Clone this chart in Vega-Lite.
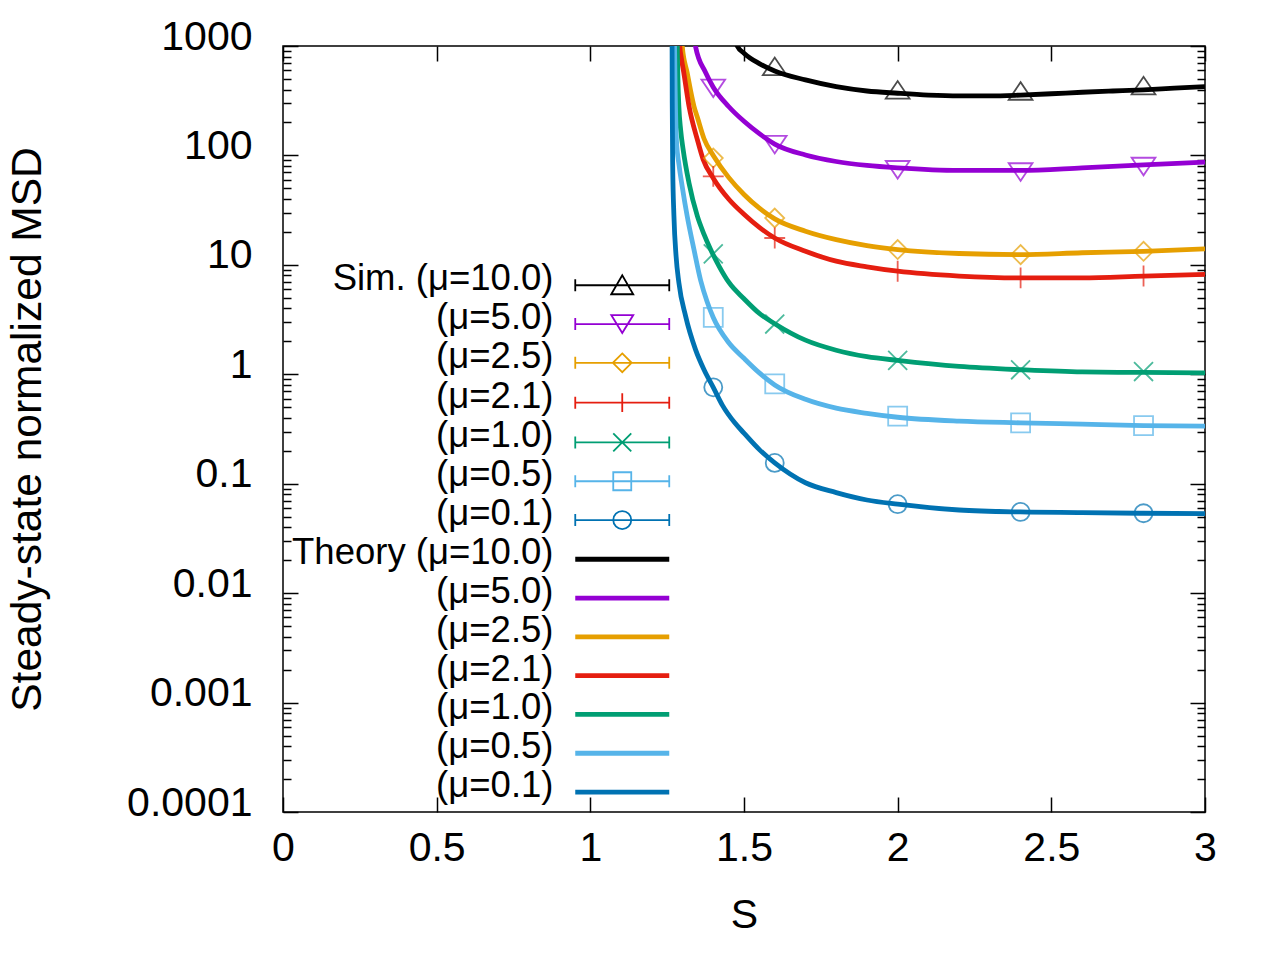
{
  "$schema": "https://vega.github.io/schema/vega-lite/v6.json",
  "description": "Steady-state normalized MSD vs S, simulation markers and theory curves for several mu",
  "width": 922,
  "height": 766,
  "autosize": "none",
  "padding": {"left": 283, "top": 46, "right": 75, "bottom": 148},
  "background": "white",
  "config": {
    "view": {"stroke": "black", "strokeWidth": 1.5},
    "font": "Liberation Sans",
    "axis": {"grid": false, "domain": false, "tickColor": "black", "tickWidth": 1.5, "labelColor": "black", "titleColor": "black", "labelFont": "Liberation Sans", "titleFont": "Liberation Sans", "titleFontWeight": "normal"},
    "legend": {"labelFont": "Liberation Sans", "labelColor": "black", "padding": 0, "labelLimit": 500}
  },
  "datasets": {
    "theory": [
      {"mu": "10.0", "S": 1.47, "msd": 1150}, {"mu": "10.0", "S": 1.478, "msd": 1000}, {"mu": "10.0", "S": 1.5, "msd": 860},
      {"mu": "10.0", "S": 1.55, "msd": 690}, {"mu": "10.0", "S": 1.6, "msd": 590}, {"mu": "10.0", "S": 1.7, "msd": 490},
      {"mu": "10.0", "S": 1.8, "msd": 425}, {"mu": "10.0", "S": 1.9, "msd": 388}, {"mu": "10.0", "S": 2.0, "msd": 370},
      {"mu": "10.0", "S": 2.1, "msd": 356}, {"mu": "10.0", "S": 2.2, "msd": 350}, {"mu": "10.0", "S": 2.3, "msd": 350},
      {"mu": "10.0", "S": 2.4, "msd": 356}, {"mu": "10.0", "S": 2.5, "msd": 366}, {"mu": "10.0", "S": 2.6, "msd": 378},
      {"mu": "10.0", "S": 2.7, "msd": 388}, {"mu": "10.0", "S": 2.8, "msd": 398}, {"mu": "10.0", "S": 2.9, "msd": 412},
      {"mu": "10.0", "S": 3.0, "msd": 425},

      {"mu": "5.0", "S": 1.341, "msd": 1400}, {"mu": "5.0", "S": 1.342, "msd": 1000}, {"mu": "5.0", "S": 1.375, "msd": 572},
      {"mu": "5.0", "S": 1.4, "msd": 420}, {"mu": "5.0", "S": 1.45, "msd": 280}, {"mu": "5.0", "S": 1.5, "msd": 205},
      {"mu": "5.0", "S": 1.55, "msd": 158}, {"mu": "5.0", "S": 1.6, "msd": 127}, {"mu": "5.0", "S": 1.7, "msd": 101},
      {"mu": "5.0", "S": 1.8, "msd": 88}, {"mu": "5.0", "S": 1.9, "msd": 81}, {"mu": "5.0", "S": 2.0, "msd": 77},
      {"mu": "5.0", "S": 2.2, "msd": 73}, {"mu": "5.0", "S": 2.4, "msd": 73}, {"mu": "5.0", "S": 2.6, "msd": 77},
      {"mu": "5.0", "S": 2.8, "msd": 82}, {"mu": "5.0", "S": 3.0, "msd": 87},

      {"mu": "2.5", "S": 1.2985, "msd": 1400}, {"mu": "2.5", "S": 1.299, "msd": 1000}, {"mu": "2.5", "S": 1.315, "msd": 572},
      {"mu": "2.5", "S": 1.337, "msd": 283}, {"mu": "2.5", "S": 1.35, "msd": 215}, {"mu": "2.5", "S": 1.37, "msd": 142},
      {"mu": "2.5", "S": 1.4, "msd": 100}, {"mu": "2.5", "S": 1.45, "msd": 63}, {"mu": "2.5", "S": 1.5, "msd": 44},
      {"mu": "2.5", "S": 1.55, "msd": 33}, {"mu": "2.5", "S": 1.6, "msd": 26.3}, {"mu": "2.5", "S": 1.7, "msd": 20.3},
      {"mu": "2.5", "S": 1.8, "msd": 17}, {"mu": "2.5", "S": 1.9, "msd": 15}, {"mu": "2.5", "S": 2.0, "msd": 13.8},
      {"mu": "2.5", "S": 2.2, "msd": 12.7}, {"mu": "2.5", "S": 2.4, "msd": 12.4}, {"mu": "2.5", "S": 2.6, "msd": 12.9},
      {"mu": "2.5", "S": 2.8, "msd": 13.3}, {"mu": "2.5", "S": 3.0, "msd": 14},

      {"mu": "2.1", "S": 1.2905, "msd": 1400}, {"mu": "2.1", "S": 1.291, "msd": 1000}, {"mu": "2.1", "S": 1.296, "msd": 780},
      {"mu": "2.1", "S": 1.304, "msd": 572}, {"mu": "2.1", "S": 1.321, "msd": 283}, {"mu": "2.1", "S": 1.348, "msd": 140},
      {"mu": "2.1", "S": 1.367, "msd": 92}, {"mu": "2.1", "S": 1.4, "msd": 62}, {"mu": "2.1", "S": 1.45, "msd": 40},
      {"mu": "2.1", "S": 1.5, "msd": 29}, {"mu": "2.1", "S": 1.55, "msd": 22}, {"mu": "2.1", "S": 1.6, "msd": 17.6},
      {"mu": "2.1", "S": 1.7, "msd": 13.3}, {"mu": "2.1", "S": 1.8, "msd": 10.8}, {"mu": "2.1", "S": 1.9, "msd": 9.6},
      {"mu": "2.1", "S": 2.0, "msd": 8.75}, {"mu": "2.1", "S": 2.2, "msd": 7.9}, {"mu": "2.1", "S": 2.4, "msd": 7.6},
      {"mu": "2.1", "S": 2.6, "msd": 7.6}, {"mu": "2.1", "S": 2.8, "msd": 7.9}, {"mu": "2.1", "S": 3.0, "msd": 8.2},

      {"mu": "1.0", "S": 1.2825, "msd": 1400}, {"mu": "1.0", "S": 1.283, "msd": 1000}, {"mu": "1.0", "S": 1.285, "msd": 500},
      {"mu": "1.0", "S": 1.288, "msd": 283}, {"mu": "1.0", "S": 1.294, "msd": 170}, {"mu": "1.0", "S": 1.302, "msd": 113},
      {"mu": "1.0", "S": 1.321, "msd": 56}, {"mu": "1.0", "S": 1.348, "msd": 28}, {"mu": "1.0", "S": 1.37, "msd": 19},
      {"mu": "1.0", "S": 1.391, "msd": 13.9}, {"mu": "1.0", "S": 1.42, "msd": 9.6}, {"mu": "1.0", "S": 1.451, "msd": 6.9},
      {"mu": "1.0", "S": 1.5, "msd": 4.9}, {"mu": "1.0", "S": 1.55, "msd": 3.6}, {"mu": "1.0", "S": 1.6, "msd": 2.9},
      {"mu": "1.0", "S": 1.7, "msd": 2.05}, {"mu": "1.0", "S": 1.8, "msd": 1.66}, {"mu": "1.0", "S": 1.9, "msd": 1.45},
      {"mu": "1.0", "S": 2.0, "msd": 1.34}, {"mu": "1.0", "S": 2.2, "msd": 1.18}, {"mu": "1.0", "S": 2.4, "msd": 1.1},
      {"mu": "1.0", "S": 2.6, "msd": 1.05}, {"mu": "1.0", "S": 2.8, "msd": 1.04}, {"mu": "1.0", "S": 3.0, "msd": 1.03},

      {"mu": "0.5", "S": 1.2735, "msd": 1400}, {"mu": "0.5", "S": 1.274, "msd": 1000}, {"mu": "0.5", "S": 1.276, "msd": 400},
      {"mu": "0.5", "S": 1.28, "msd": 140}, {"mu": "0.5", "S": 1.289, "msd": 80}, {"mu": "0.5", "S": 1.299, "msd": 52},
      {"mu": "0.5", "S": 1.315, "msd": 28}, {"mu": "0.5", "S": 1.337, "msd": 13.9}, {"mu": "0.5", "S": 1.359, "msd": 7.2},
      {"mu": "0.5", "S": 1.38, "msd": 4.6}, {"mu": "0.5", "S": 1.4, "msd": 3.3}, {"mu": "0.5", "S": 1.45, "msd": 1.95},
      {"mu": "0.5", "S": 1.5, "msd": 1.4}, {"mu": "0.5", "S": 1.55, "msd": 1.03}, {"mu": "0.5", "S": 1.6, "msd": 0.8},
      {"mu": "0.5", "S": 1.7, "msd": 0.59}, {"mu": "0.5", "S": 1.8, "msd": 0.49}, {"mu": "0.5", "S": 1.9, "msd": 0.44},
      {"mu": "0.5", "S": 2.0, "msd": 0.405}, {"mu": "0.5", "S": 2.2, "msd": 0.373}, {"mu": "0.5", "S": 2.4, "msd": 0.36},
      {"mu": "0.5", "S": 2.6, "msd": 0.35}, {"mu": "0.5", "S": 2.8, "msd": 0.34}, {"mu": "0.5", "S": 3.0, "msd": 0.336},

      {"mu": "0.1", "S": 1.2655, "msd": 1400}, {"mu": "0.1", "S": 1.266, "msd": 1000}, {"mu": "0.1", "S": 1.2665, "msd": 300},
      {"mu": "0.1", "S": 1.268, "msd": 80}, {"mu": "0.1", "S": 1.272, "msd": 28}, {"mu": "0.1", "S": 1.279, "msd": 12},
      {"mu": "0.1", "S": 1.288, "msd": 6.9}, {"mu": "0.1", "S": 1.31, "msd": 3.4}, {"mu": "0.1", "S": 1.342, "msd": 1.69},
      {"mu": "0.1", "S": 1.37, "msd": 1.1}, {"mu": "0.1", "S": 1.4, "msd": 0.76}, {"mu": "0.1", "S": 1.43, "msd": 0.52},
      {"mu": "0.1", "S": 1.47, "msd": 0.36}, {"mu": "0.1", "S": 1.5, "msd": 0.29}, {"mu": "0.1", "S": 1.55, "msd": 0.205},
      {"mu": "0.1", "S": 1.6, "msd": 0.155}, {"mu": "0.1", "S": 1.7, "msd": 0.102}, {"mu": "0.1", "S": 1.8, "msd": 0.083},
      {"mu": "0.1", "S": 1.9, "msd": 0.071}, {"mu": "0.1", "S": 2.0, "msd": 0.065}, {"mu": "0.1", "S": 2.2, "msd": 0.0575},
      {"mu": "0.1", "S": 2.4, "msd": 0.0552}, {"mu": "0.1", "S": 2.6, "msd": 0.0545}, {"mu": "0.1", "S": 2.8, "msd": 0.0537},
      {"mu": "0.1", "S": 3.0, "msd": 0.0532}
    ],
    "sim": [
      {"mu": "10.0", "S": 1.6, "msd": 630}, {"mu": "10.0", "S": 2.0, "msd": 384}, {"mu": "10.0", "S": 2.4, "msd": 375}, {"mu": "10.0", "S": 2.8, "msd": 420},
      {"mu": "5.0", "S": 1.4, "msd": 425}, {"mu": "5.0", "S": 1.6, "msd": 130}, {"mu": "5.0", "S": 2.0, "msd": 76.6}, {"mu": "5.0", "S": 2.4, "msd": 73}, {"mu": "5.0", "S": 2.8, "msd": 82},
      {"mu": "2.5", "S": 1.4, "msd": 94.6}, {"mu": "2.5", "S": 1.6, "msd": 26.8}, {"mu": "2.5", "S": 2.0, "msd": 13.8}, {"mu": "2.5", "S": 2.4, "msd": 12.4}, {"mu": "2.5", "S": 2.8, "msd": 13.3},
      {"mu": "2.1", "S": 1.4, "msd": 64.4}, {"mu": "2.1", "S": 1.6, "msd": 17.6}, {"mu": "2.1", "S": 2.0, "msd": 8.75}, {"mu": "2.1", "S": 2.4, "msd": 7.6}, {"mu": "2.1", "S": 2.8, "msd": 7.9},
      {"mu": "1.0", "S": 1.4, "msd": 12.6}, {"mu": "1.0", "S": 1.6, "msd": 2.88}, {"mu": "1.0", "S": 2.0, "msd": 1.34}, {"mu": "1.0", "S": 2.4, "msd": 1.1}, {"mu": "1.0", "S": 2.8, "msd": 1.06},
      {"mu": "0.5", "S": 1.4, "msd": 3.31}, {"mu": "0.5", "S": 1.6, "msd": 0.817}, {"mu": "0.5", "S": 2.0, "msd": 0.414}, {"mu": "0.5", "S": 2.4, "msd": 0.36}, {"mu": "0.5", "S": 2.8, "msd": 0.34},
      {"mu": "0.1", "S": 1.4, "msd": 0.76}, {"mu": "0.1", "S": 1.6, "msd": 0.155}, {"mu": "0.1", "S": 2.0, "msd": 0.065}, {"mu": "0.1", "S": 2.4, "msd": 0.0552}, {"mu": "0.1", "S": 2.8, "msd": 0.0537}
    ]
  },
  "layer": [
    {
      "data": {"name": "theory"},
      "mark": {"type": "line", "strokeWidth": 4.8, "interpolate": "monotone", "clip": true},
      "encoding": {
        "x": {
          "field": "S", "type": "quantitative",
          "scale": {"domain": [0, 3], "nice": false, "zero": false},
          "axis": {
            "orient": "bottom", "title": "S", "values": [0, 0.5, 1, 1.5, 2, 2.5, 3], "format": "~g",
            "tickSize": -15, "labelPadding": 31, "labelFontSize": 41, "labelFlush": false, "labelOverlap": false,
            "titleFontSize": 41, "titleY": 103, "titleBaseline": "middle"
          }
        },
        "y": {
          "field": "msd", "type": "quantitative",
          "scale": {"type": "log", "domain": [0.0001, 1000], "nice": false},
          "axis": {
            "orient": "left", "title": "Steady-state normalized MSD",
            "values": [0.0001, 0.0002, 0.0003, 0.0004, 0.0005, 0.0006, 0.0007, 0.0008, 0.0009,
                       0.001, 0.002, 0.003, 0.004, 0.005, 0.006, 0.007, 0.008, 0.009,
                       0.01, 0.02, 0.03, 0.04, 0.05, 0.06, 0.07, 0.08, 0.09,
                       0.1, 0.2, 0.3, 0.4, 0.5, 0.6, 0.7, 0.8, 0.9,
                       1, 2, 3, 4, 5, 6, 7, 8, 9,
                       10, 20, 30, 40, 50, 60, 70, 80, 90,
                       100, 200, 300, 400, 500, 600, 700, 800, 900, 1000],
            "labelExpr": "abs(log(datum.value)/LN10 - round(log(datum.value)/LN10)) < 0.001 ? format(datum.value, '~g') : ''",
            "tickSize": {"condition": {"test": "abs(log(datum.value)/LN10 - round(log(datum.value)/LN10)) < 0.001", "value": -15}, "value": -8},
            "labelPadding": 46, "labelOffset": -9, "labelFontSize": 41, "labelOverlap": false,
            "titleFontSize": 42.5, "titleX": -256, "titleY": 383, "titleAngle": 270, "titleAlign": "center", "titleBaseline": "middle"
          }
        },
        "color": {
          "field": "mu", "type": "nominal",
          "scale": {
            "domain": ["10.0", "5.0", "2.5", "2.1", "1.0", "0.5", "0.1"],
            "range": ["#000000", "#9400d3", "#e69f00", "#e51e10", "#009e73", "#56b4e9", "#0072b2"]
          },
          "legend": {
            "orient": "none", "legendX": 321, "legendY": 489, "title": null,
            "labelExpr": "datum.label == '10.0' ? 'Theory (μ=10.0)' : '(μ=' + datum.label + ')'",
            "labelFontSize": 36.5, "labelAlign": "right", "labelOffset": -87,
            "symbolType": "M-47,6H47", "symbolSize": 4, "symbolStrokeWidth": 4.8, "rowPadding": 1.8
          }
        }
      }
    },
    {
      "data": {"name": "sim"},
      "mark": {"type": "point", "filled": false, "strokeWidth": 1.8, "size": 360},
      "encoding": {
        "x": {"field": "S", "type": "quantitative", "axis": {"orient": "top", "title": null, "labels": false, "values": [0, 0.5, 1, 1.5, 2, 2.5, 3], "tickSize": -15}},
        "y": {
          "field": "msd", "type": "quantitative",
          "axis": {
            "orient": "right", "title": null, "labels": false,
            "values": [0.0001, 0.0002, 0.0003, 0.0004, 0.0005, 0.0006, 0.0007, 0.0008, 0.0009,
                       0.001, 0.002, 0.003, 0.004, 0.005, 0.006, 0.007, 0.008, 0.009,
                       0.01, 0.02, 0.03, 0.04, 0.05, 0.06, 0.07, 0.08, 0.09,
                       0.1, 0.2, 0.3, 0.4, 0.5, 0.6, 0.7, 0.8, 0.9,
                       1, 2, 3, 4, 5, 6, 7, 8, 9,
                       10, 20, 30, 40, 50, 60, 70, 80, 90,
                       100, 200, 300, 400, 500, 600, 700, 800, 900, 1000],
            "tickSize": {"condition": {"test": "abs(log(datum.value)/LN10 - round(log(datum.value)/LN10)) < 0.001", "value": -15}, "value": -8}
          }
        },
        "color": {
          "field": "mu", "type": "nominal",
          "scale": {
            "domain": ["10.0", "5.0", "2.5", "2.1", "1.0", "0.5", "0.1"],
            "range": ["#000000", "#9400d3", "#e69f00", "#e51e10", "#009e73", "#56b4e9", "#0072b2"]
          },
          "legend": null
        },
        "shape": {
          "field": "mu", "type": "nominal",
          "scale": {
            "domain": ["10.0", "5.0", "2.5", "2.1", "1.0", "0.5", "0.1"],
            "range": ["M-1.25,0.75L0,-1.1L1.25,0.75Z", "M-1.25,-0.75L0,1.1L1.25,-0.75Z", "diamond", "M0,-1.1V1.1M-1.1,0H1.1", "M-1,-1L1,1M-1,1L1,-1", "square", "M-0.95,0A0.95,0.95 0 1,0 0.95,0A0.95,0.95 0 1,0 -0.95,0"]
          },
          "legend": null
        }
      }
    },
    {
      "data": {"name": "sim"},
      "mark": {"type": "point", "filled": false, "opacity": 0},
      "encoding": {
        "x": {"field": "S", "type": "quantitative", "axis": null},
        "y": {"field": "msd", "type": "quantitative", "axis": null},
        "color": {
          "field": "mu", "type": "nominal",
          "scale": {
            "domain": ["10.0", "5.0", "2.5", "2.1", "1.0", "0.5", "0.1"],
            "range": ["#000000", "#9400d3", "#e69f00", "#e51e10", "#009e73", "#56b4e9", "#0072b2"]
          },
          "legend": {
            "orient": "none", "legendX": 321, "legendY": 215, "title": null,
            "labelExpr": "datum.label == '10.0' ? 'Sim. (μ=10.0)' : '(μ=' + datum.label + ')'",
            "labelFontSize": 36.5, "labelAlign": "right", "labelOffset": -87,
            "symbolSize": 4, "symbolStrokeWidth": 1.8, "symbolOpacity": 1, "symbolFillColor": "transparent", "rowPadding": 1.8
          }
        },
        "shape": {
          "field": "mu", "type": "nominal",
          "scale": {
            "domain": ["10.0", "5.0", "2.5", "2.1", "1.0", "0.5", "0.1"],
            "range": [
              "M-47,6H47M-47,0V12M47,0V12M-11,15L0,-4L11,15Z",
              "M-47,6H47M-47,0V12M47,0V12M-11,-3L0,15L11,-3Z",
              "M-47,6H47M-47,0V12M47,0V12M0,-3.4L9.4,6L0,15.4L-9.4,6Z",
              "M-47,6H47M-47,0V12M47,0V12M0,-3.4V15.4",
              "M-47,6H47M-47,0V12M47,0V12M-9,-3L9,15M-9,15L9,-3",
              "M-47,6H47M-47,0V12M47,0V12M-9,-3H9V15H-9Z",
              "M-47,6H47M-47,0V12M47,0V12M-9,6A9,9 0 1,0 9,6A9,9 0 1,0 -9,6"
            ]
          },
          "legend": {
            "orient": "none", "legendX": 321, "legendY": 215, "title": null,
            "labelExpr": "datum.label == '10.0' ? 'Sim. (μ=10.0)' : '(μ=' + datum.label + ')'",
            "labelFontSize": 36.5, "labelAlign": "right", "labelOffset": -87,
            "symbolSize": 4, "symbolStrokeWidth": 1.8, "symbolOpacity": 1, "symbolFillColor": "transparent", "rowPadding": 1.8
          }
        }
      }
    }
  ],
  "resolve": {
    "scale": {"color": "independent", "shape": "independent"},
    "axis": {"x": "independent", "y": "independent"}
  }
}
